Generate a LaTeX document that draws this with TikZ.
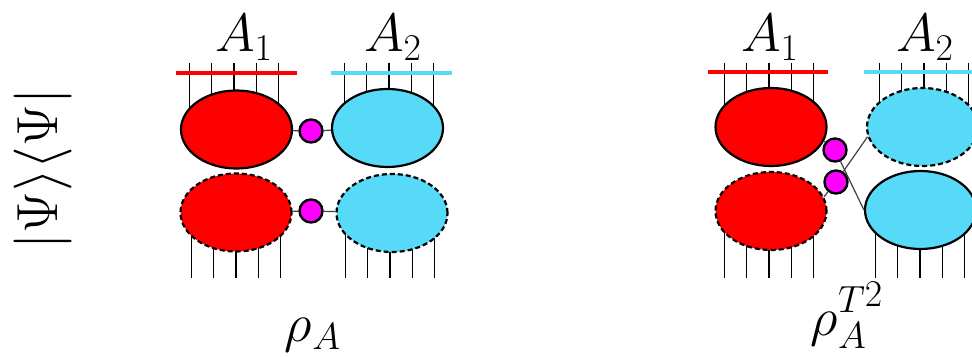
\RequirePackage{fix-cm}
\documentclass[tikz,border=0pt]{standalone}
\usepackage{xcolor}
\definecolor{partRed}{HTML}{FF0000}
\definecolor{partCyan}{HTML}{57DAF7}
\definecolor{bondMagenta}{HTML}{FF00FF}
\usepackage{tikz}
\usetikzlibrary{
    shapes.geometric,
    positioning
}
\tikzset{
    % Base style for the tensor blobs
    blob/.style={
        ellipse,
        draw=black,
        line width=1.1pt,
        minimum width=55.5pt,
        minimum height=39pt,
        inner sep=0pt,
    },
    % Ket blobs - solid outline
    ket/.style={
        blob,
    },
    % Bra blobs - dashed outline
    bra/.style={
        blob,
        dash pattern=on 2.5pt off 1.5pt,
    },
    red part/.style={fill=partRed},
    cyan part/.style={fill=partCyan},
    % Bond matrix between the two parts
    bond/.style={
        circle,
        draw=black,
        line width=1.2pt,
        fill=bondMagenta,
        minimum size=11.5pt,
        inner sep=0pt,
    },
    bond line/.style={
        draw=black!75,
        line width=0.6pt,
    },
    % Physical legs and region bars
    leg/.style={
        line width=0.75pt,
    },
    region bar/.style={
        line width=2pt,
    },
    % Labels
    big label/.style={
        font=\fontsize{27}{32}\selectfont,
        inner sep=0pt,
    },
}

\begin{document}
\begin{tikzpicture}[x=0.5pt, y=-0.5pt]
    \clip (0,0) rectangle (972,357);

    % legs above and below the blobs
    \foreach \m in {234, 389, 769, 924}
        \foreach \k in {0,...,4}
            \draw [leg] (\m-44.6+\k*22.3, 63) -- (\m-44.6+\k*22.3, 128);
    \foreach \m in {236, 390, 769, 920}
        \foreach \k in {0,...,4}
            \draw [leg] (\m-44.6+\k*22.3, 212) -- (\m-44.6+\k*22.3, 278);

    % region bars
    \draw [region bar, partRed] (176,73) -- (297,73);
    \draw [region bar, partCyan] (331,73) -- (452,73);
    \draw [region bar, partRed] (708,72) -- (828,72);
    \draw [region bar, partCyan] (864,72) -- (980,72);

    \node (labA1) [big label, anchor=base] at (244,52) {$A_1$};
    \node (labA2) [big label, anchor=base] at (393,52) {$A_2$};
    \node (labA1T) [big label, anchor=base] at (770,52) {$A_1$};
    \node (labA2T) [big label, anchor=base] at (925,52) {$A_2$};

    % reduced density matrix
    \node (redtop) [ket, red part] at (236.5,129.5) {};
    \node (cyantop) [ket, cyan part] at (387.5,128) {};
    \node (redbot) [bra, red part] at (236,212.5) {};
    \node (cyanbot) [bra, cyan part] at (392,213) {};
    \node (bond1) [bond] at (311,131) {};
    \node (bond2) [bond] at (311,211) {};

    \draw [bond line] (redtop) -- (bond1) -- (cyantop);
    \draw [bond line] (redbot) -- (bond2) -- (cyanbot);

    % partial transpose
    \node (redtopR) [ket, red part] at (771,127) {};
    \node (cyantopR) [bra, cyan part] at (922.5,127) {};
    \node (redbotR) [bra, red part] at (771,211) {};
    \node (cyanbotR) [ket, cyan part] at (920.5,210) {};
    \node (bondA) [bond] at (835,150) {};
    \node (bondB) [bond] at (836,182) {};

    \draw [bond line] (redtopR.-15) -- (bondA);
    \draw [bond line] (bondA) -- (cyanbotR.west);
    \draw [bond line] (redbotR.15) -- (bondB);
    \draw [bond line] (bondB) -- (cyantopR.190);

    \node (psiLabel) [big label, rotate=90, font=\fontsize{29}{34}\selectfont] at (43,169) {$|\Psi\rangle\langle\Psi|$};
    \node (rhoA) [big label, anchor=base] at (313,341) {$\rho_A$};
    \node (rhoAT) [big label, anchor=base] at (847,335) {$\rho_A^{\raisebox{1.5pt}{$\scriptstyle T\raisebox{3pt}{$\scriptstyle 2$}$}}$};
\end{tikzpicture}
\end{document}
